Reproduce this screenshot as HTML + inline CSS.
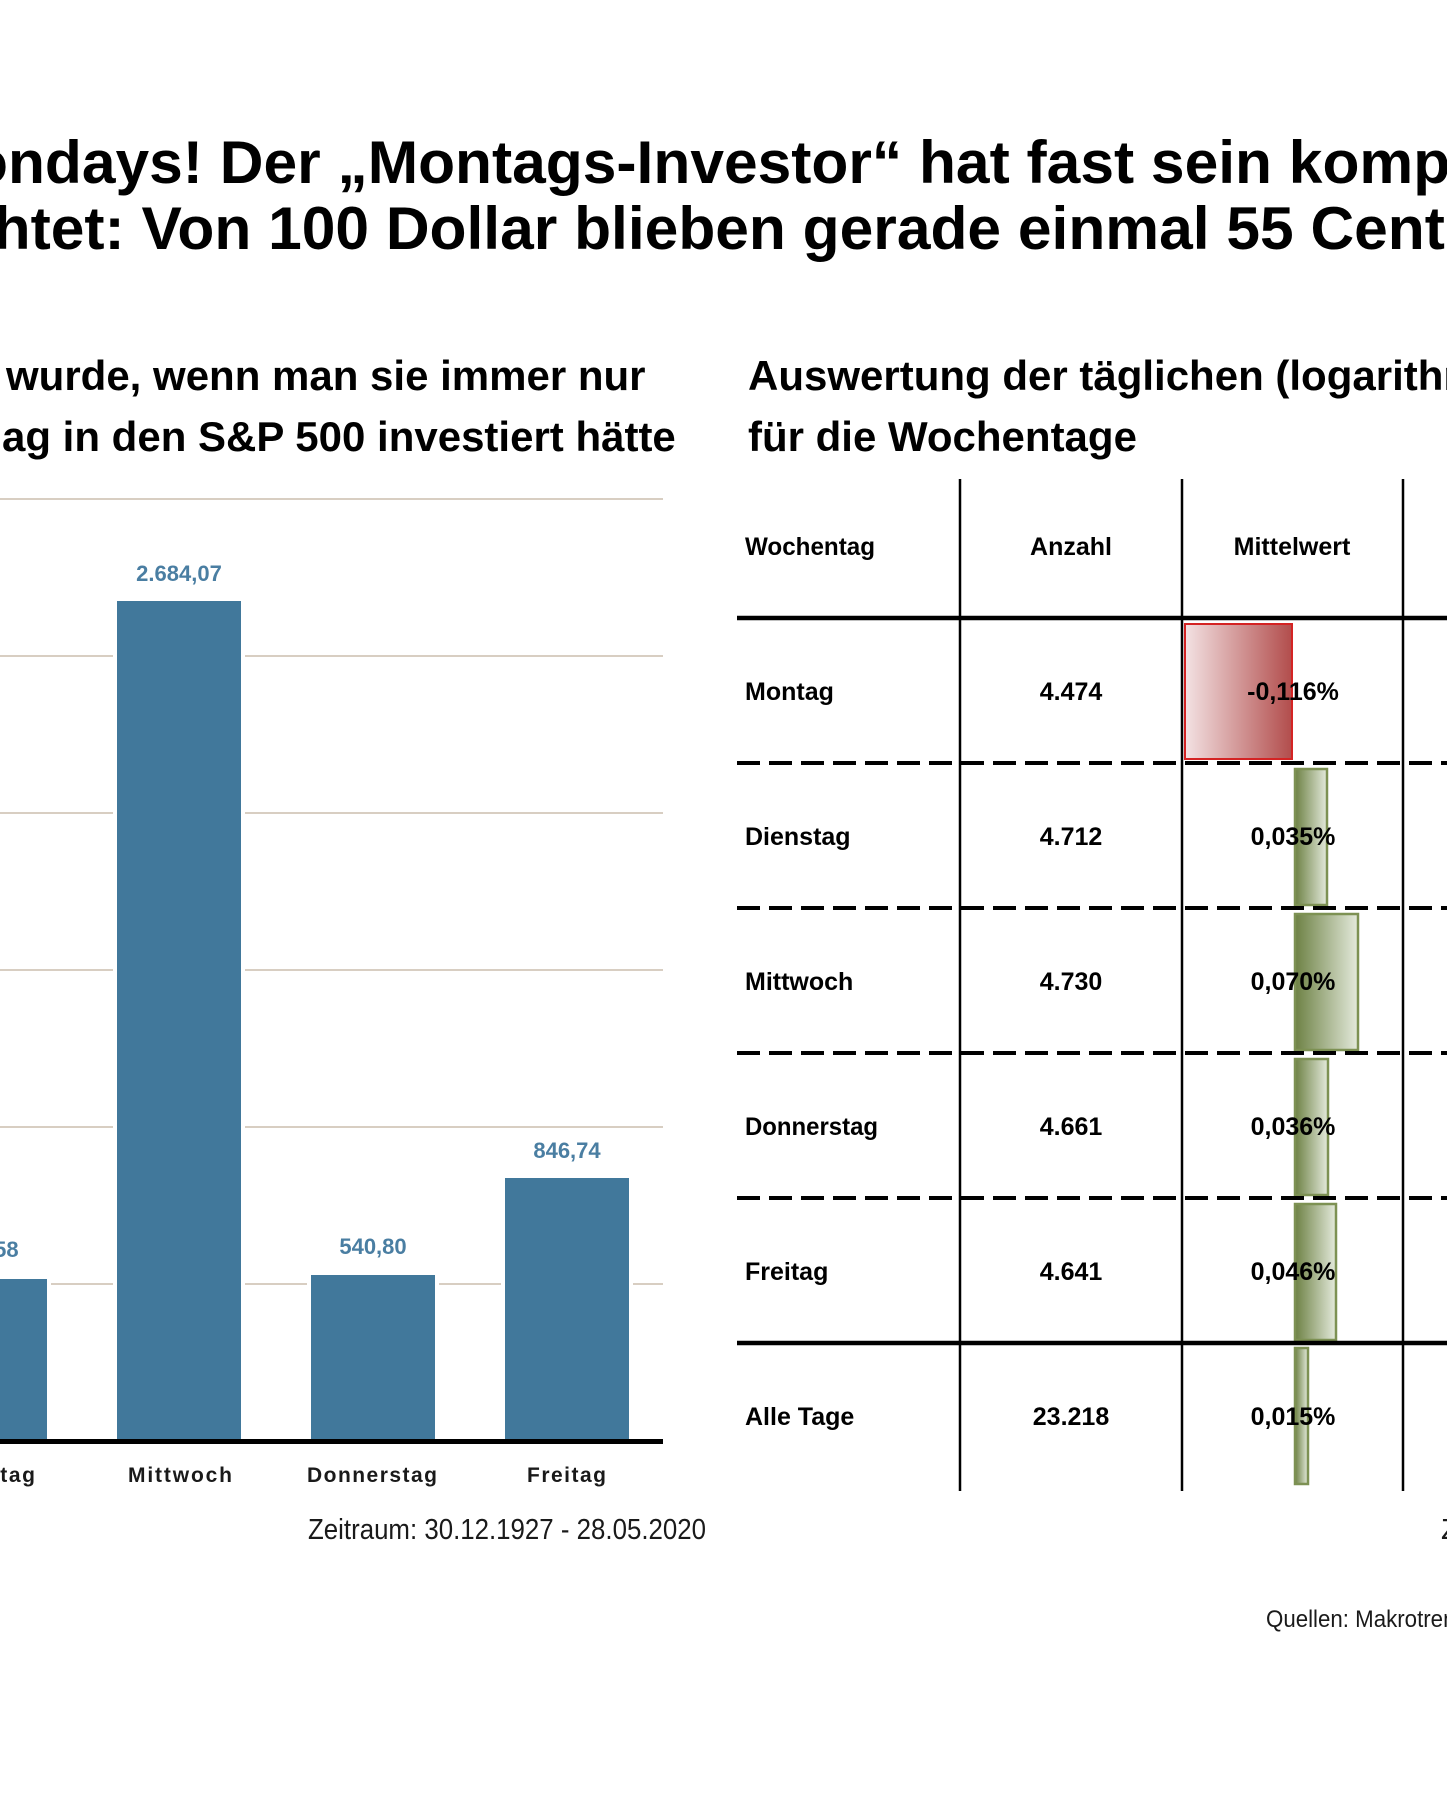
<!DOCTYPE html>
<html>
<head>
<meta charset="utf-8">
<style>
  html, body { margin: 0; padding: 0; background: #fff; }
  body { width: 1447px; height: 1809px; overflow: hidden; }
  svg { display: block; }
  .t { font-family: "Liberation Sans", Arial, sans-serif; }
</style>
</head>
<body>
<svg width="1447" height="1809" viewBox="0 0 1447 1809" xmlns="http://www.w3.org/2000/svg">
  <defs>
    <linearGradient id="gRed" x1="0" y1="0" x2="1" y2="0">
      <stop offset="0" stop-color="#f3e2e3"/>
      <stop offset="1" stop-color="#b24d4c"/>
    </linearGradient>
    <linearGradient id="gGreen" x1="0" y1="0" x2="1" y2="0">
      <stop offset="0" stop-color="#6d8144"/>
      <stop offset="1" stop-color="#e4eadc"/>
    </linearGradient>
  </defs>
  <rect x="0" y="0" width="1447" height="1809" fill="#fff"/>

  <!-- Title -->
  <g class="t" font-weight="bold" font-size="60.5" fill="#000">
    <text x="-29" y="183">ondays! Der „Montags-Investor“ hat fast sein komplettes</text>
    <text x="-40" y="249">chtet: Von 100 Dollar blieben gerade einmal 55 Cent</text>
  </g>

  <!-- Subtitles -->
  <g class="t" font-weight="bold" font-size="42" fill="#000">
    <text x="6" y="390">wurde, wenn man sie immer nur</text>
    <text x="2" y="451">ag in den S&amp;P 500 investiert hätte</text>
    <text x="748" y="390">Auswertung der täglichen (logarithmischen)</text>
    <text x="748" y="451">für die Wochentage</text>
  </g>

  <!-- Left chart gridlines -->
  <g stroke="#d8cec2" stroke-width="2">
    <line x1="0" y1="499" x2="663" y2="499"/>
    <line x1="0" y1="656" x2="663" y2="656"/>
    <line x1="0" y1="813" x2="663" y2="813"/>
    <line x1="0" y1="970" x2="663" y2="970"/>
    <line x1="0" y1="1127" x2="663" y2="1127"/>
    <line x1="0" y1="1284" x2="663" y2="1284"/>
  </g>

  <!-- Bars with white halo -->
  <g fill="#fff">
    <rect x="-82" y="1275" width="133" height="165"/>
    <rect x="113" y="597" width="132" height="843"/>
    <rect x="307" y="1271" width="132" height="169"/>
    <rect x="501" y="1174" width="132" height="266"/>
  </g>
  <g fill="#41789b">
    <rect x="-78" y="1279" width="125" height="161"/>
    <rect x="117" y="601" width="124" height="839"/>
    <rect x="311" y="1275" width="124" height="165"/>
    <rect x="505" y="1178" width="124" height="262"/>
  </g>
  <line x1="0" y1="1441.5" x2="663" y2="1441.5" stroke="#000" stroke-width="5"/>

  <!-- Bar value labels -->
  <g class="t" font-weight="bold" font-size="22" fill="#4a7ea2" text-anchor="middle">
    <text x="-15" y="1257">515,58</text>
    <text x="179" y="581">2.684,07</text>
    <text x="373" y="1254">540,80</text>
    <text x="567" y="1158">846,74</text>
  </g>

  <!-- X axis labels -->
  <g class="t" font-weight="bold" font-size="21" fill="#1a1a1a">
    <text x="-65" y="1482" textLength="100" lengthAdjust="spacing">Dienstag</text>
    <text x="128" y="1482" textLength="104" lengthAdjust="spacing">Mittwoch</text>
    <text x="307" y="1482" textLength="130" lengthAdjust="spacing">Donnerstag</text>
    <text x="527" y="1482" textLength="79" lengthAdjust="spacing">Freitag</text>
  </g>

  <!-- Zeitraum left -->
  <text class="t" x="308" y="1539" font-size="29" fill="#1a1a1a" textLength="398" lengthAdjust="spacingAndGlyphs">Zeitraum: 30.12.1927 - 28.05.2020</text>

  <!-- Table bars -->
  <rect x="1185" y="624" width="107" height="135" fill="url(#gRed)" stroke="#d42323" stroke-width="2"/>
  <g fill="url(#gGreen)" stroke="#7d9153" stroke-width="2.5">
    <rect x="1295" y="769" width="32" height="136"/>
    <rect x="1295" y="914" width="63" height="136"/>
    <rect x="1295" y="1059" width="33" height="136"/>
    <rect x="1295" y="1204" width="41" height="136"/>
    <rect x="1295" y="1348" width="13" height="136"/>
  </g>

  <!-- Table lines -->
  <g stroke="#000" stroke-width="2.5">
    <line x1="960" y1="479" x2="960" y2="1491"/>
    <line x1="1182" y1="479" x2="1182" y2="1491"/>
    <line x1="1403" y1="479" x2="1403" y2="1491"/>
  </g>
  <line x1="737" y1="618" x2="1447" y2="618" stroke="#000" stroke-width="4.5"/>
  <g stroke="#000" stroke-width="4" stroke-dasharray="23 9">
    <line x1="737" y1="763" x2="1447" y2="763"/>
    <line x1="737" y1="908" x2="1447" y2="908"/>
    <line x1="737" y1="1053" x2="1447" y2="1053"/>
    <line x1="737" y1="1198" x2="1447" y2="1198"/>
  </g>
  <line x1="737" y1="1343" x2="1447" y2="1343" stroke="#000" stroke-width="4.5"/>

  <!-- Table text -->
  <g class="t" font-weight="bold" font-size="25" fill="#000">
    <text x="745" y="555" textLength="130" lengthAdjust="spacingAndGlyphs">Wochentag</text>
    <text x="1071" y="555" text-anchor="middle">Anzahl</text>
    <text x="1292" y="555" text-anchor="middle">Mittelwert</text>

    <text x="745" y="700">Montag</text>
    <text x="745" y="845">Dienstag</text>
    <text x="745" y="990">Mittwoch</text>
    <text x="745" y="1135" textLength="133" lengthAdjust="spacingAndGlyphs">Donnerstag</text>
    <text x="745" y="1280">Freitag</text>
    <text x="745" y="1425">Alle Tage</text>
  </g>
  <g class="t" font-weight="bold" font-size="25" fill="#000" text-anchor="middle">
    <text x="1071" y="700">4.474</text>
    <text x="1071" y="845">4.712</text>
    <text x="1071" y="990">4.730</text>
    <text x="1071" y="1135">4.661</text>
    <text x="1071" y="1280">4.641</text>
    <text x="1071" y="1425">23.218</text>

    <text x="1293" y="700">-0,116%</text>
    <text x="1293" y="845">0,035%</text>
    <text x="1293" y="990">0,070%</text>
    <text x="1293" y="1135">0,036%</text>
    <text x="1293" y="1280">0,046%</text>
    <text x="1293" y="1425">0,015%</text>
  </g>

  <!-- Right footer -->
  <text class="t" x="1441" y="1539" font-size="29" fill="#1a1a1a">Zeitraum</text>
  <text class="t" x="1266" y="1627" font-size="24" fill="#1a1a1a" textLength="213" lengthAdjust="spacingAndGlyphs">Quellen: Makrotrends</text>
</svg>
</body>
</html>
